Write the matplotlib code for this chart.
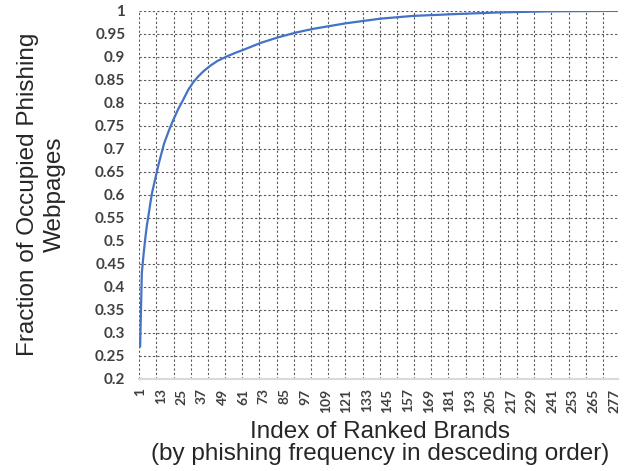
import numpy as np
import matplotlib.pyplot as plt
from matplotlib.ticker import FixedLocator

# brand rank (category index) and cumulative fraction
rank = [1, 2, 3, 4, 5, 6, 7, 8, 10, 12, 15, 18, 20, 23, 26, 29, 32, 35, 38,
        42, 46, 51, 56, 61, 71, 81, 92, 102, 121, 141, 160, 185, 210, 240, 279]
fraction = [0.27, 0.43, 0.47, 0.505, 0.535, 0.558, 0.583, 0.605, 0.638, 0.67,
            0.712, 0.742, 0.76, 0.785, 0.806, 0.828, 0.845, 0.858, 0.869,
            0.881, 0.891, 0.900, 0.908, 0.915, 0.930, 0.942, 0.953, 0.961,
            0.973, 0.983, 0.989, 0.993, 0.9965, 0.999, 1.0]
n_brands = 279
x_labels = list(range(1, 278, 12))
y_ticks = [round(0.2 + 0.05 * k, 2) for k in range(17)]

W, H = 633, 471
fig = plt.figure(figsize=(W / 100, H / 100), dpi=100)
ax = fig.add_axes([0.220, 0.196, 0.757, 0.781])

ax.plot(rank, fraction, color='#4472C4', linewidth=1.6, zorder=3)

ax.set_xlim(0.5, n_brands + 0.5)
ax.set_ylim(0.2, 1.0)

# gridlines: every 10 categories (at boundaries), every 0.05 on y
grid_x = [0.5 + 10 * k for k in range(28)]
for gx in grid_x:
    ax.axvline(gx, color='#595959', linestyle=(0, (2, 2)), linewidth=0.8, zorder=1)
for gy in y_ticks[1:]:
    ax.axhline(gy, color='#595959', linestyle=(0, (2, 2)), linewidth=0.8, zorder=1)

ax.xaxis.set_major_locator(FixedLocator(x_labels))
ax.set_xticklabels([str(v) for v in x_labels], rotation=90,
                   fontfamily='Lato', fontweight='bold', fontsize=10)
ax.set_yticks(y_ticks)
ax.set_yticklabels([f"{v:g}" for v in y_ticks],
                   fontfamily='Lato', fontweight='bold', fontsize=11)
ax.tick_params(axis='both', length=0, colors='#404040')
ax.tick_params(axis='y', pad=10)
ax.tick_params(axis='x', pad=7)

for s in ['top', 'right', 'left']:
    ax.spines[s].set_visible(False)
ax.spines['bottom'].set_color('#D9D9D9')
ax.spines['bottom'].set_linewidth(1.5)

# axis titles placed by pixel position
title_kw = dict(fontfamily='Liberation Sans', color='#262626', ha='center')
fig.text(380 / W, 1 - 438 / H, "Index of Ranked Brands", fontsize=17.5,
         va='baseline', **title_kw)
fig.text(380 / W, 1 - 460 / H, "(by phishing frequency in desceding order)",
         fontsize=17.5, va='baseline', **title_kw)
fig.text(28 / W, 1 - 194 / H, "Fraction of Occupied Phishing", fontsize=17.5,
         rotation=90, va='center', **title_kw)
fig.text(55 / W, 1 - 194 / H, "Webpages", fontsize=17.5, rotation=90,
         va='center', **title_kw)

plt.savefig("out.png", dpi=100)
